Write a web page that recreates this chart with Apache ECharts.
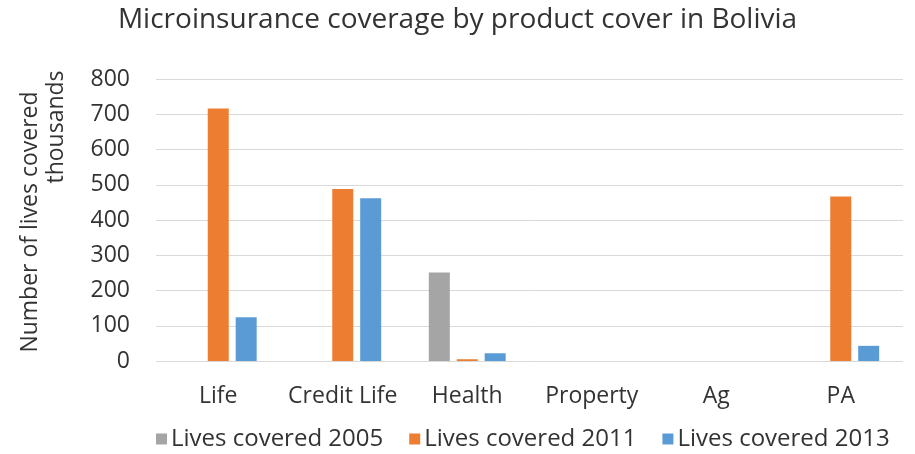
<!DOCTYPE html>
<html><head><meta charset="utf-8">
<script src="https://cdn.jsdelivr.net/npm/echarts@6/dist/echarts.min.js"></script>
<style>html,body{margin:0;padding:0;background:#fff}#c{width:915px;height:454px}</style>
</head><body><div id="c"></div>
<script>
const categories = ['Life', 'Credit Life', 'Health', 'Property', 'Ag', 'PA'];
const lives2005 = [0, 0, 251, 0, 0, 0];
const lives2011 = [716, 488, 5, 0, 0, 467];
const lives2013 = [124, 462, 22, 0, 0, 43];
const seriesNames = ['Lives covered 2005', 'Lives covered 2011', 'Lives covered 2013'];
const yTicks = {min: 0, max: 800, interval: 100};

const FONT = 'Open Sans';
const TXT = '#333333';
const chart = echarts.init(document.getElementById('c'));
const mk = (name, data, color) => ({
  name, type: 'bar', data, barWidth: 21, barGap: '33%',
  itemStyle: {color}, emphasis: {disabled: true}
});
chart.setOption({
  animation: false,
  textStyle: {fontFamily: FONT},
  title: {
    text: 'Microinsurance coverage by product cover in Bolivia',
    left: 'center', top: 6, padding: 0,
    textStyle: {fontFamily: FONT, fontSize: 28, fontWeight: 'normal', color: TXT}
  },
  legend: {
    top: 427, left: 156, padding: 0, itemWidth: 11, itemHeight: 11, itemGap: 26,
    icon: 'rect',
    textStyle: {fontFamily: FONT, fontSize: 24, color: TXT, padding: [0, 0, 0, -1]},
    data: seriesNames
  },
  grid: {left: 156, right: 12, top: 79, bottom: 93, containLabel: false},
  xAxis: {
    type: 'category', data: categories,
    axisLine: {show: false}, axisTick: {show: false},
    axisLabel: {fontFamily: FONT, fontSize: 23, color: TXT, margin: 24, interval: 0, hideOverlap: false}
  },
  yAxis: {
    type: 'value', min: yTicks.min, max: yTicks.max, interval: yTicks.interval,
    axisLine: {show: false}, axisTick: {show: false},
    axisLabel: {fontFamily: FONT, fontSize: 23, color: TXT, margin: 26},
    splitLine: {lineStyle: {color: '#d9d9d9', width: 1}}
  },
  graphic: [
    {type: 'text', x: 30, y: 222, rotation: Math.PI / 2,
     style: {text: 'Number of lives covered', fontFamily: FONT, fontSize: 23, fill: TXT, align: 'center', verticalAlign: 'middle'}},
    {type: 'text', x: 56, y: 127, rotation: Math.PI / 2,
     style: {text: 'thousands', fontFamily: FONT, fontSize: 23, fill: TXT, align: 'center', verticalAlign: 'middle'}}
  ],
  series: [
    mk(seriesNames[0], lives2005, '#a5a5a5'),
    mk(seriesNames[1], lives2011, '#ed7d31'),
    mk(seriesNames[2], lives2013, '#5b9bd5')
  ]
});
</script></body></html>
